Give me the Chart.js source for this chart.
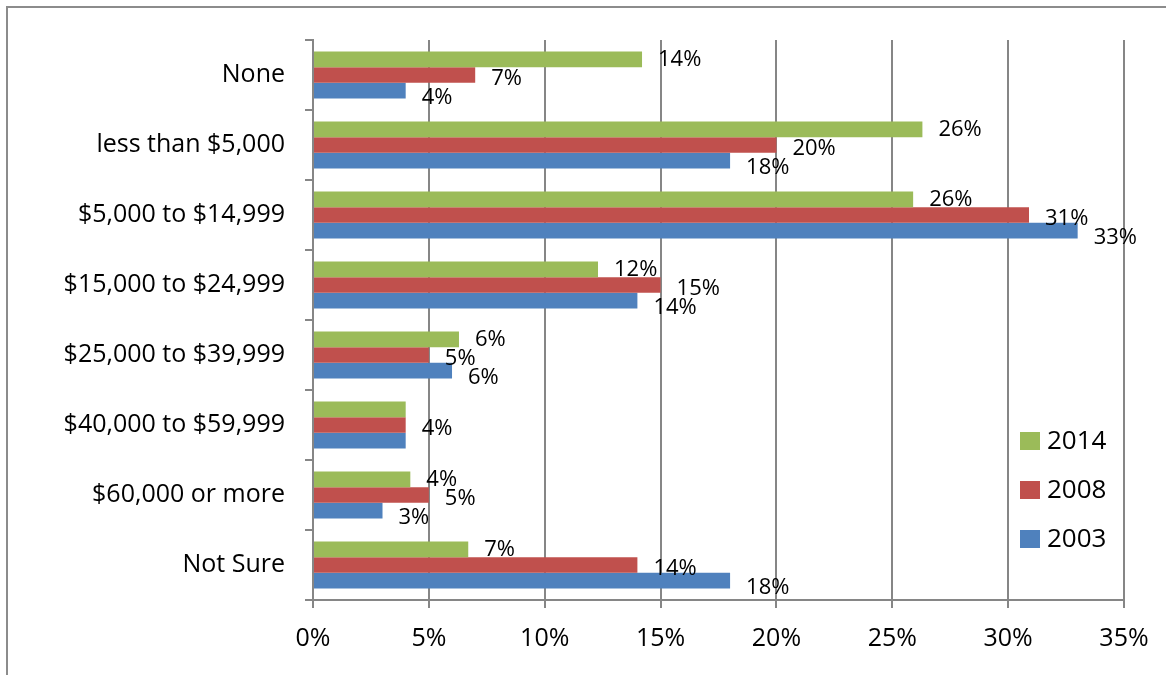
<!DOCTYPE html>
<html>
<head>
<meta charset="utf-8">
<script src="https://cdn.jsdelivr.net/npm/chart.js@4/dist/chart.umd.min.js"></script>
<style>
  html, body { margin: 0; padding: 0; background: #fff; overflow: hidden; }
  #frame { position: absolute; left: 6px; top: 6px; width: 1200px; height: 720px; border: 2px solid #8c8c8c; box-sizing: border-box; }
  #wrap { position: absolute; left: 0; top: 0; width: 1166px; height: 675px; }
</style>
</head>
<body>
<div id="frame"></div>
<div id="wrap"><canvas id="chart"></canvas></div>
<script>
const categories = ['None', 'less than $5,000', '$5,000 to $14,999', '$15,000 to $24,999',
  '$25,000 to $39,999', '$40,000 to $59,999', '$60,000 or more', 'Not Sure'];
const seriesNames = ['2014', '2008', '2003'];
const values2014 = [14.2, 26.3, 25.9, 12.3, 6.3, 4.0, 4.2, 6.7];
const values2008 = [7.0, 20.0, 30.9, 15.0, 5.0, 4.0, 5.0, 14.0];
const values2003 = [4.0, 18.0, 33.0, 14.0, 6.0, 4.0, 3.0, 18.0];
const labels2014 = ['14%', '26%', '26%', '12%', '6%', '', '4%', '7%'];
const labels2008 = ['7%', '20%', '31%', '15%', '5%', '4%', '5%', '14%'];
const labels2003 = ['4%', '18%', '33%', '14%', '6%', '', '3%', '18%'];
const xTicks = [0, 5, 10, 15, 20, 25, 30, 35];

const colors = ['#9BBB59', '#C0504D', '#4F81BD'];
const FONT = '"Open Sans", "Liberation Sans", sans-serif';
const GRID = '#868686';

const labelSets = [labels2014, labels2008, labels2003];
const labelDy = [0, 4, 7];

const dataLabels = {
  id: 'dataLabels',
  afterDatasetsDraw(chart) {
    const ctx = chart.ctx;
    ctx.save();
    ctx.font = '22px ' + FONT;
    ctx.fillStyle = '#000';
    ctx.textBaseline = 'middle';
    ctx.textAlign = 'left';
    chart.data.datasets.forEach((ds, di) => {
      chart.getDatasetMeta(di).data.forEach((bar, i) => {
        const t = labelSets[di][i];
        if (!t) return;
        ctx.fillText(t, bar.x + 16, bar.y + labelDy[di]);
      });
    });
    ctx.restore();
  }
};

const legendBox = {
  id: 'legendBox',
  afterDraw(chart) {
    const ctx = chart.ctx;
    ctx.save();
    ctx.font = '26px ' + FONT;
    ctx.textBaseline = 'middle';
    ctx.textAlign = 'left';
    seriesNames.forEach((name, i) => {
      const y = 441 + i * 49;
      ctx.fillStyle = colors[i];
      ctx.fillRect(1020, y - 9, 20, 18);
      ctx.fillStyle = '#000';
      ctx.fillText(name, 1047, y + 1);
    });
    ctx.restore();
  }
};

new Chart(document.getElementById('chart'), {
  type: 'bar',
  data: {
    labels: categories,
    datasets: [
      { label: seriesNames[0], data: values2014, backgroundColor: colors[0] },
      { label: seriesNames[1], data: values2008, backgroundColor: colors[1] },
      { label: seriesNames[2], data: values2003, backgroundColor: colors[2] }
    ]
  },
  options: {
    indexAxis: 'y',
    responsive: true,
    maintainAspectRatio: false,
    animation: false,
    layout: { padding: { top: 40, right: 42, left: 0, bottom: 0 } },
    datasets: { bar: { categoryPercentage: 0.67, barPercentage: 1.0 } },
    plugins: { legend: { display: false }, tooltip: { enabled: false } },
    scales: {
      x: {
        min: 0, max: 35,
        afterBuildTicks(scale) { scale.ticks = xTicks.map(v => ({ value: v })); },
        afterFit(scale) { scale.height = 75; },
        grid: { color: GRID, lineWidth: 2, drawTicks: true, tickLength: 8, tickColor: GRID },
        border: { color: GRID, width: 2 },
        ticks: { color: '#000', font: { family: FONT, size: 25 }, padding: 16, callback: v => v + '%' }
      },
      y: {
        afterFit(scale) { scale.width = 313; },
        grid: { drawOnChartArea: false, drawTicks: true, tickLength: 8, tickColor: GRID, lineWidth: 2, offset: true },
        border: { color: GRID, width: 2 },
        ticks: { color: '#000', font: { family: FONT, size: 25 }, padding: 20 }
      }
    }
  },
  plugins: [dataLabels, legendBox]
});
</script>
</body>
</html>
